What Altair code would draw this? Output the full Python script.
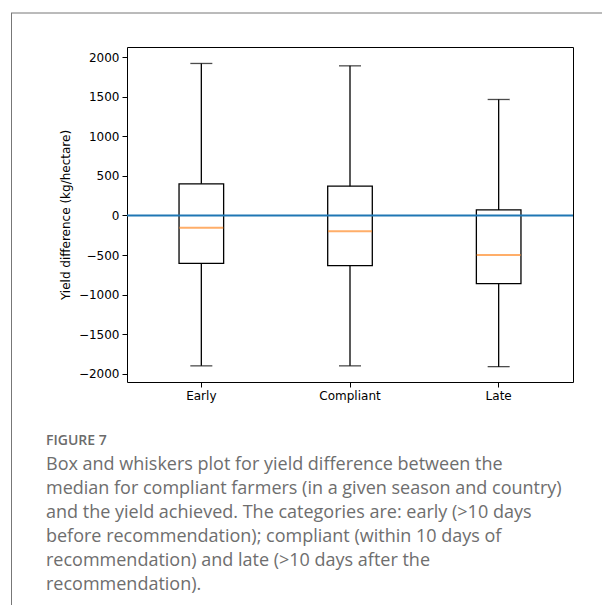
import altair as alt
import pandas as pd

# ---- data ----
categories = ["Early", "Compliant", "Late"]
whisker_high = [1920, 1890, 1465]
q3 = [400, 370, 70]
median = [-155, -200, -500]
q1 = [-605, -635, -860]
whisker_low = [-1900, -1900, -1910]
y_ticks = [-2000, -1500, -1000, -500, 0, 500, 1000, 1500, 2000]
reference_line = [0]

y_title = "Yield difference (kg/hectare)"
caption_head = "FIGURE 7"
caption_lines = [
    "Box and whiskers plot for yield difference between the",
    "median for compliant farmers (in a given season and country)",
    "and the yield achieved. The categories are: early (>10 days",
    "before recommendation); compliant (within 10 days of",
    "recommendation) and late (>10 days after the",
    "recommendation).",
]

df = pd.DataFrame({
    "category": categories,
    "whisker_high": whisker_high,
    "q3": q3,
    "median": median,
    "q1": q1,
    "whisker_low": whisker_low,
})
ref_df = pd.DataFrame({"ref": reference_line})
one = pd.DataFrame({"k": [0]})

x_enc = alt.X(
    "category:N",
    sort=categories,
    scale=alt.Scale(paddingInner=0.7, paddingOuter=0.35),
    axis=alt.Axis(title=None, labelAngle=0, labelPadding=3),
)
y_scale = alt.Scale(domain=[-2104, 2128], nice=False, zero=False)
y_axis = alt.Axis(
    values=y_ticks,
    title=y_title,
    labelExpr="replace(format(datum.value, 'd'), '-', '\u2212')",
    labelPadding=3,
    titlePadding=6,
)


def yq(field, axis=None):
    if axis is None:
        return alt.Y(f"{field}:Q", scale=y_scale, title=y_title)
    return alt.Y(f"{field}:Q", scale=y_scale, axis=axis, title=y_title)


base = alt.Chart(df)
LW = 1.3

box = base.mark_bar(fill="transparent", stroke="black", strokeWidth=LW).encode(
    x=x_enc, y=yq("q3", y_axis), y2="q1:Q"
)
whisk_up = base.mark_rule(color="black", strokeWidth=LW).encode(
    x=x_enc, y=yq("q3"), y2="whisker_high:Q"
)
whisk_dn = base.mark_rule(color="black", strokeWidth=LW).encode(
    x=x_enc, y=yq("q1"), y2="whisker_low:Q"
)
cap_up = base.mark_tick(color="black", thickness=LW, size=22, orient="horizontal").encode(
    x=x_enc, y=yq("whisker_high")
)
cap_dn = base.mark_tick(color="black", thickness=LW, size=22, orient="horizontal").encode(
    x=x_enc, y=yq("whisker_low")
)
med = base.mark_tick(color="#ff8c2a", thickness=2, size=44, orient="horizontal").encode(
    x=x_enc, y=yq("median")
)
zero_line = alt.Chart(ref_df).mark_rule(color="#1f77b4", strokeWidth=2).encode(
    y=yq("ref")
)

frame_left = alt.Chart(one).mark_rule(color="#777777", strokeWidth=1).encode(
    x=alt.value(-115.5), y=alt.value(-34), y2=alt.value(560)
)
frame_top = alt.Chart(one).mark_rule(color="#777777", strokeWidth=1).encode(
    x=alt.value(-116), x2=alt.value(480), y=alt.value(-34)
)
head = alt.Chart(one).mark_text(
    align="left", baseline="alphabetic", font="Open Sans", fontSize=14,
    fontWeight=600, color="#6b6b6b"
).encode(x=alt.value(-81), y=alt.value(398), text=alt.value(caption_head))
caption = alt.Chart(one).mark_text(
    align="left", baseline="alphabetic", font="Open Sans", fontSize=18,
    fontWeight="normal", color="#6e6e6e", lineHeight=24, lineBreak="\n"
).encode(x=alt.value(-81), y=alt.value(423), text=alt.value("\n".join(caption_lines)))

chart = alt.layer(
    frame_left, frame_top, head, caption,
    whisk_up, whisk_dn, cap_up, cap_dn, box, med, zero_line,
).properties(
    width=446,
    height=335,
    autosize=alt.AutoSizeParams(type="none"),
    padding={"left": 119, "top": 39, "right": 29, "bottom": 223},
).configure_view(
    stroke="black", strokeWidth=1
).configure_axis(
    domain=False, grid=False, tickColor="black", tickSize=5, tickWidth=1,
    labelColor="black", labelFont="DejaVu Sans", labelFontSize=12,
    titleFont="DejaVu Sans", titleFontSize=12, titleFontWeight="normal",
    titleColor="black",
)

chart.save("out.html", embed_options={"renderer": "svg", "actions": False})
